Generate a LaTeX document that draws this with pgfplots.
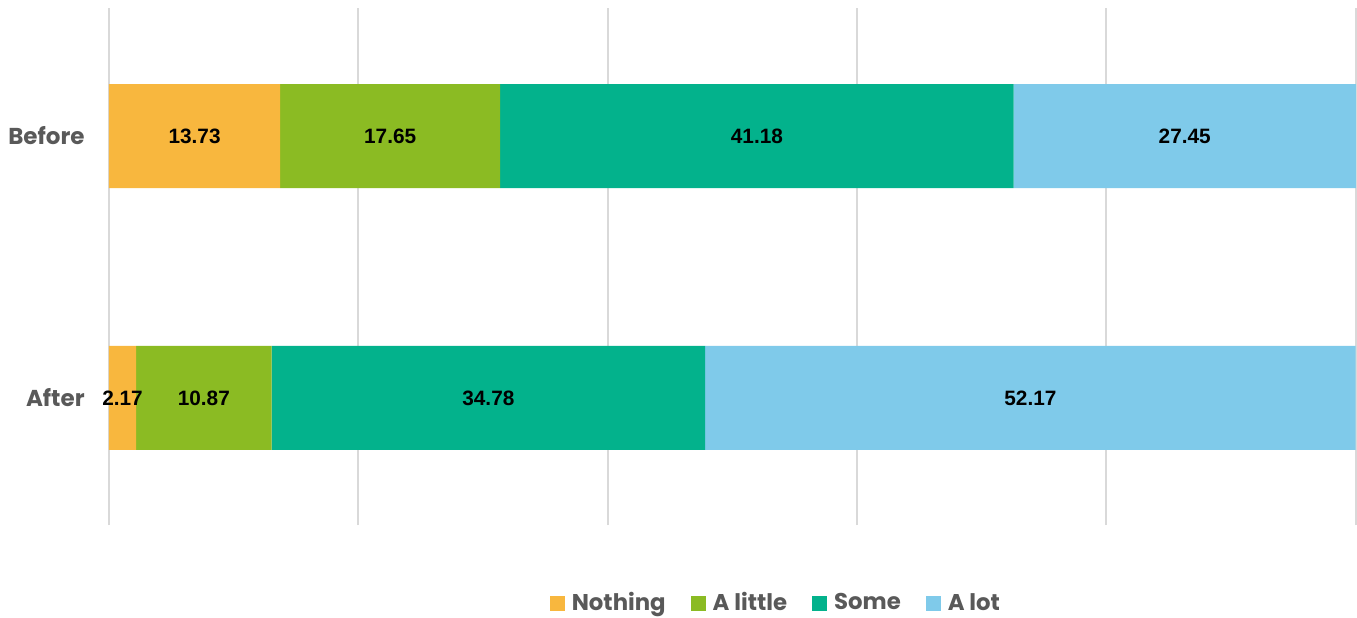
\documentclass[border=0pt]{standalone}
\usepackage{pgfplots}
\pgfplotsset{compat=1.18}
\usepackage{fontspec}
\setmainfont{Poppins}
\newfontfamily\arialfont{Liberation Sans}
\definecolor{cNothing}{HTML}{F8B73E}
\definecolor{cLittle}{HTML}{8BBB23}
\definecolor{cSome}{HTML}{03B28C}
\definecolor{cLot}{HTML}{7FCAEA}
\definecolor{gridc}{HTML}{D9D9D9}
\definecolor{txt}{HTML}{595959}
\begin{document}
\begin{tikzpicture}
\useasboundingbox (0,0) rectangle (678.5pt,308.5pt);
\begin{axis}[
  at={(54.5pt,46pt)}, anchor=south west,
  scale only axis, width=623.5pt, height=258.5pt,
  xbar stacked, bar width=52pt,
  xmin=0, xmax=100.02, ymin=-0.485, ymax=1.489,
  ytick={0,1}, yticklabels={After,Before},
  xtick={0,20,40,60,80,100}, xticklabels={},
  xmajorgrids, grid style={gridc, line width=1pt},
  axis line style={draw=none},
  major tick length=0pt,
  yticklabel style={font=\bfseries\fontsize{11.5}{13}\selectfont, text=txt, inner sep=0pt, xshift=-12pt},
  nodes near coords={\pgfmathprintnumber[fixed,precision=2,fixed zerofill,assume math mode=true]{\pgfplotspointmeta}},
  point meta=rawx,
  every node near coord/.append style={font=\arialfont\bfseries\fontsize{10.4}{12}\selectfont, text=black, anchor=center},
  legend style={at={(0.534,-0.151)}, anchor=center, legend columns=4, draw=none, font=\bfseries\fontsize{11.4}{14}\selectfont, text=txt,
    nodes={inner sep=0pt},
    /tikz/every odd column/.append style={column sep=3.5pt},
    /tikz/every even column/.append style={column sep=12.5pt}},
  legend image code/.code={\fill[#1] (0pt,-3.75pt) rectangle (7.5pt,3.75pt);},
]
\addplot[fill=cNothing, draw=none] coordinates {(2.17,0) (13.73,1)};
\addplot[fill=cLittle, draw=none] coordinates {(10.87,0) (17.65,1)};
\addplot[fill=cSome, draw=none] coordinates {(34.78,0) (41.18,1)};
\addplot[fill=cLot, draw=none] coordinates {(52.17,0) (27.45,1)};
\legend{Nothing, A little, Some, A lot}
\end{axis}
\end{tikzpicture}
\end{document}
